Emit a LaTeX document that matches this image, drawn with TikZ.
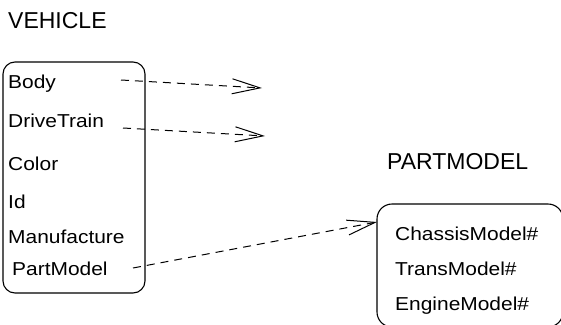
\documentclass[tikz,border=0pt]{standalone}
\usepackage{fontspec}
\setmainfont{Liberation Sans}
\newfontfamily\itemfont{Liberation Sans}[FakeStretch=1.12]
\usetikzlibrary{arrows.meta}
\tikzset{
  title/.style={anchor=base west, inner sep=0pt, font=\fontsize{23}{26}\selectfont},
  field/.style={anchor=base west, inner sep=0pt, font=\itemfont\fontsize{18.7}{22}\selectfont},
  entity/.style={draw, line width=1.1pt, rounded corners=12pt},
  ref/.style={line width=1pt, dash pattern=on 8pt off 6pt,
    -{Straight Barb[length=28pt,width=15pt,line width=1pt]}},
}
\begin{document}
\begin{tikzpicture}[x=1pt,y=-1pt]
  \useasboundingbox (0,0) rectangle (561,324);
  \clip (0,0) rectangle (561,324);

  % vehicle record
  \node[title] (vtitle) at (8,28) {VEHICLE};
  \draw[entity] (3,62) rectangle (145,293);
  \node[field] (body)  at (8,88)   {Body};
  \node[field] (drive) at (8,127)  {DriveTrain};
  \node[field] (color) at (8,170)  {Color};
  \node[field] (id)    at (8,208)  {Id};
  \node[field] (manu)  at (8,243)  {Manufacture};
  \node[field] (pm)    at (12,275) {PartModel};

  % part model record
  \node[title] (ptitle) at (387,169) {PARTMODEL};
  \draw[entity, rounded corners=15pt] (377,204) rectangle (563,327);
  \node[field] (chassis) at (395,240) {ChassisModel\#};
  \node[field] (trans)   at (395,275) {TransModel\#};
  \node[field] (engine)  at (395,310) {EngineModel\#};

  % references: dangling ends for Body and DriveTrain, PartModel into its record
  \coordinate (bodyend)  at (262,88);
  \coordinate (driveend) at (265,136);
  \coordinate (pmend)    at (377,222);
  \draw[ref] ([xshift=113pt,yshift=8pt]body.base west) -- (bodyend);
  \draw[ref] ([xshift=115pt,yshift=-1pt]drive.base west) -- (driveend);
  \draw[ref] ([xshift=121pt,yshift=7pt]pm.base west) -- (pmend);
\end{tikzpicture}
\end{document}
